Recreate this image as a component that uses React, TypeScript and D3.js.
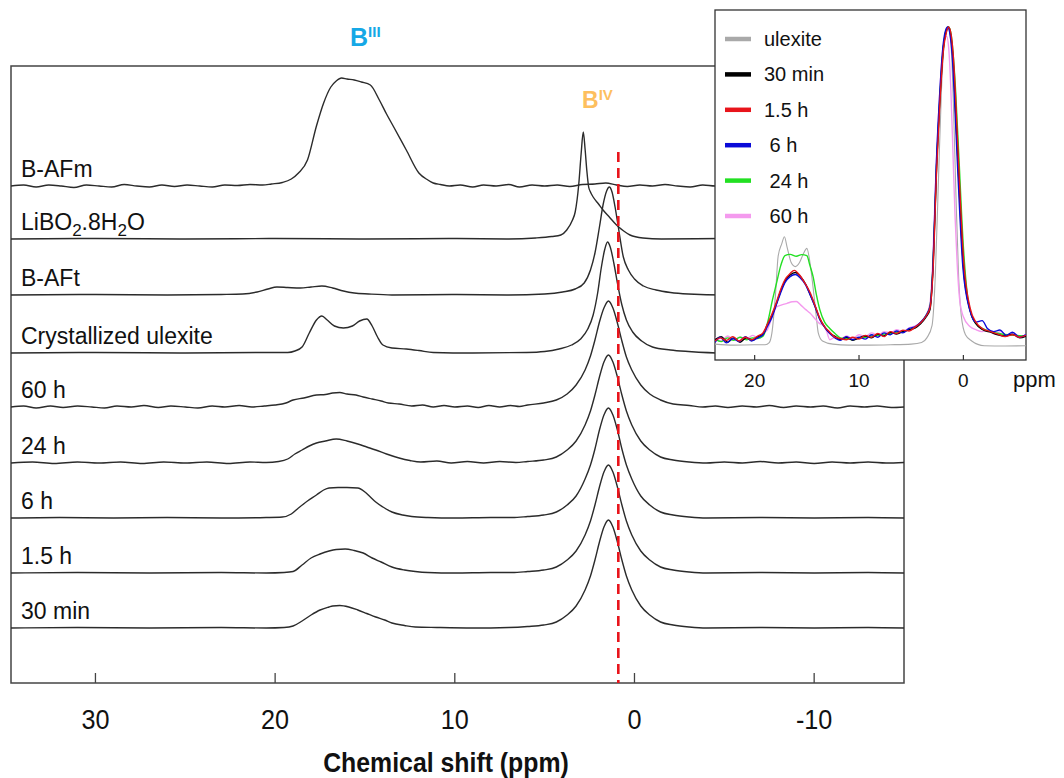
import React from "react";
import * as d3 from "d3";

type Pt = [number, number];

// ---------- main stacked spectra (ppm, intensity a.u.) ----------
const TRACE_LABELS = ["B-AFm", "LiBO_2.8H_2O", "B-AFt", "Crystallized ulexite", "60 h", "24 h", "6 h", "1.5 h", "30 min"];
const TRACE_OFFSETS = [497, 444, 388, 330, 276, 220, 165, 110, 55];
const MAIN_TICKS = [30, 20, 10, 0, -10];
const REF_LINE_PPM = 0.9;

const bAFm: Pt[] = [[34.7,0],[34,1],[33.3,-1],[32.6,1],[31.9,0],[31.2,-1.5],[30.5,1],[29.8,0],[29.1,-1],[28.4,1.5],[27.7,0],[27,-1],[26.3,1],[25.6,-0.5],[24.9,1],[24.2,0],[23.5,-1],[22.8,1],[22.1,0.5],[21.4,1.5],[20.7,1],[20.2,2],[19.6,3.5],[19.1,7],[18.7,13],[18.2,26],[17.7,60],[17.3,83],[16.9,99],[16.6,105],[16.3,108],[16.0,107],[15.6,106],[15.2,104],[14.7,101],[14.2,86],[13.8,72],[13.4,59],[12.7,36],[12.0,13],[11.5,6],[11.2,3],[10.8,1.5],[10.3,0],[9.7,1],[9,-1],[8.4,1],[7.7,0],[7,1.5],[6.4,-1],[5.7,1],[5,0],[4.3,1],[3.6,-0.5],[2.9,1.5],[2.2,2],[1.6,3],[1.0,1],[0.4,-0.5],[-0.3,1],[-1,0],[-1.7,1.5],[-2.4,0],[-3.1,-1],[-3.8,1],[-4.5,0],[-5.5,1],[-7,0],[-9,1],[-11,0],[-13,1],[-15,0]];

const liBO2: Pt[] = [[34.7,0],[30,0.5],[25,0],[20,0.5],[15,0],[10,0.5],[7,0],[5.5,1],[4.6,2.5],[4.1,4],[3.77,9],[3.45,19],[3.3,27],[3.1,55],[2.97,85],[2.85,107],[2.75,90],[2.65,68],[2.55,52],[2.45,47],[2.3,42],[2.0,35],[1.75,29],[1.4,22],[1.0,14],[0.6,8],[0.25,4],[-0.47,1],[-1.5,0],[-5,0.5],[-15,0]];

const bAFt: Pt[] = [[34.7,0],[30,0.5],[26,0],[23,0.5],[21.8,1],[21,3],[20.4,6],[19.9,8],[19.3,7.5],[18.6,7],[18,8],[17.4,9],[16.8,7],[16.2,4],[15.6,2],[14.8,1],[13.5,0],[10,0.5],[7,0],[5,1],[4,3],[3.3,6],[2.8,12],[2.45,25],[2.2,42],[1.95,68],[1.75,90],[1.55,104],[1.4,108],[1.25,103],[1.08,88],[0.9,68],[0.62,38],[0.34,25],[0,16],[-0.5,9],[-1.2,5],[-2,2.5],[-3,1],[-5,0],[-15,0]];

const crystUlexite: Pt[] = [[34.7,0],[30,0.5],[25,0],[21,0.5],[19.3,0.5],[18.9,2],[18.5,6],[18.1,20],[17.7,33],[17.4,37],[17.1,33],[16.7,27],[16.2,25],[15.7,27],[15.3,32],[14.9,34],[14.6,27],[14.3,16],[14.0,8],[13.5,5],[12.7,4],[12,2.5],[11.2,0.5],[9,0],[6,0.5],[5,1.5],[4.2,4],[3.5,8],[3.0,14],[2.6,24],[2.3,38],[2.05,60],[1.85,85],[1.65,104],[1.5,111],[1.35,106],[1.15,90],[0.95,70],[0.7,48],[0.45,33],[0.1,21],[-0.4,12],[-1,6],[-2,3],[-3,1.5],[-5,0],[-15,0]];

const h60: Pt[] = [[34.7,0],[34,1],[33.3,-1],[32.5,1],[31.8,-0.5],[31,1],[30.2,0],[29.5,-1],[28.8,1],[28,0],[27.3,1.5],[26.5,-0.5],[25.8,1],[25,0],[24.3,-1],[23.5,1],[22.8,0],[22,1.5],[21.3,0],[20.6,1],[20,2],[19.4,4],[19,7],[18.4,9],[17.7,12],[17.2,12.5],[16.8,14],[16.4,14.5],[16,13],[15.5,12],[15.1,10],[14.6,8],[14.1,6],[13.7,4],[13.1,3],[12.4,1],[11.8,2],[11.2,0],[10.6,1.5],[10,0],[9.3,1],[8.7,-0.5],[8.1,1.5],[7.5,0],[6.9,1.5],[6.4,0.5],[5.95,2],[5.05,4],[4.35,7],[3.75,13],[3.25,22],[2.75,37],[2.45,51],[2.2,67],[1.95,85],[1.7,99],[1.45,106],[1.2,99],[0.95,84],[0.7,66],[0.45,50],[0.15,37],[-0.35,22],[-0.85,13],[-1.45,7],[-2.15,3],[-3.05,1.5],[-3.8,0],[-4.5,1],[-5.2,-0.5],[-6,1],[-6.8,0],[-7.5,1.5],[-8.3,-0.5],[-9,1],[-9.8,0],[-10.5,1],[-11.3,-1],[-12,1],[-12.8,0],[-13.5,1],[-14.3,-0.5],[-15,0]];

const h24: Pt[] = [[34.7,0],[33.5,1],[32.3,-0.5],[31,1],[29.8,0],[28.6,1],[27.4,-0.5],[26.2,1],[25,0],[23.8,1],[22.6,-0.5],[21.4,1],[20.5,0.5],[19.8,1.5],[19.3,4],[18.9,9],[18.5,13],[18.1,17],[17.7,20],[17.2,22],[16.6,24],[16,22],[15.4,19],[14.9,16],[14.4,13],[13.8,9],[13.1,5],[12.5,2.5],[11.9,1],[11,2],[10.2,0],[9.3,1.5],[8.4,0],[7.5,1.5],[6.6,0.5],[5.95,1.5],[5.05,3],[4.35,6],[3.75,13],[3.25,22],[2.75,38],[2.45,52],[2.2,68],[1.95,86],[1.7,101],[1.45,108],[1.2,101],[0.95,86],[0.7,68],[0.45,52],[0.15,38],[-0.35,22],[-0.85,13],[-1.45,6],[-2.15,3],[-3.05,1],[-4,0],[-5,1],[-6,0],[-7,1.5],[-8,0],[-9,1],[-10,-0.5],[-11,1],[-12,0],[-13,1],[-14,0],[-15,0.5]];

const h6: Pt[] = [[34.7,0],[32,0.5],[29,0],[26,0.5],[23,0],[20.5,0.5],[19.6,1],[19.1,4],[18.7,10],[18.2,17],[17.7,23],[17.3,28],[17.0,30],[16.5,30.5],[16,30.5],[15.4,30],[15,26],[14.7,21],[14.4,16],[14,11],[13.5,6],[12.9,3],[12.4,1.5],[11.5,0.5],[10,0],[8,0.5],[6.8,0.5],[5.95,1.5],[5.05,3],[4.35,6],[3.75,13],[3.25,22],[2.75,39],[2.45,53],[2.2,69],[1.95,88],[1.7,103],[1.45,110],[1.2,103],[0.95,88],[0.7,69],[0.45,53],[0.15,39],[-0.35,22],[-0.85,13],[-1.45,6],[-2.15,3],[-3.05,1],[-4,0],[-7,0.5],[-10,0],[-13,0.5],[-15,0]];

const h1_5: Pt[] = [[34.7,0],[31,0.5],[27,0],[23,0.5],[20.5,0],[19.5,0.5],[19,1.5],[18.5,8],[18,15],[17.5,19],[17,22],[16.6,23.5],[16.1,24],[15.6,22.5],[15.1,20],[14.6,15],[14.1,11],[13.5,6],[12.8,3],[12.2,1.5],[11.5,0.5],[10,0],[8,0.5],[6.8,0.5],[5.95,1.5],[5.05,3],[4.35,6],[3.75,13],[3.25,22],[2.75,38],[2.45,52],[2.2,68],[1.95,86],[1.7,101],[1.45,108],[1.2,101],[0.95,86],[0.7,68],[0.45,52],[0.15,38],[-0.35,22],[-0.85,13],[-1.45,6],[-2.15,3],[-3.05,1],[-4,0],[-7,0.5],[-10,0],[-13,0.5],[-15,0]];

const min30: Pt[] = [[34.7,0],[31,0.5],[27,0],[23,0.5],[20.5,0],[19.5,0.5],[19,2],[18.5,7],[18,13],[17.5,18],[17,21],[16.8,22],[16.4,22.5],[15.9,21],[15.4,18],[14.9,14.5],[14.4,11],[13.9,8],[13.5,5],[12.8,2.5],[12.2,1],[11,0.5],[9,0],[7,0.5],[5.95,1.5],[5.05,3],[4.35,6],[3.75,13],[3.25,22],[2.75,38],[2.45,52],[2.2,68],[1.95,86],[1.7,101],[1.45,108],[1.2,101],[0.95,86],[0.7,68],[0.45,52],[0.15,38],[-0.35,22],[-0.85,13],[-1.45,6],[-2.15,3],[-3.05,1],[-4,0],[-7,0.5],[-10,0],[-13,0.5],[-15,0]];

const TRACES: Pt[][] = [bAFm, liBO2, bAFt, crystUlexite, h60, h24, h6, h1_5, min30];

// ---------- inset (normalised intensity) ----------
const INSET_LABELS = ["ulexite", "30 min", "1.5 h", " 6 h", " 24 h", " 60 h"];
const INSET_COLORS = ["#a9a9a9", "#000000", "#e8141b", "#0a0ad8", "#22e022", "#f49aee"];
const INSET_TICKS = [20, 10, 0];

const inUlexite: Pt[] = [[23.8,-0.01],[22,-0.013],[20,-0.012],[19,-0.012],[18.6,-0.005],[18.35,0.025],[18.0,0.15],[17.75,0.27],[17.4,0.31],[17.15,0.332],[16.9,0.3],[16.5,0.25],[16.1,0.237],[15.7,0.25],[15.3,0.28],[15.0,0.295],[14.7,0.25],[14.4,0.17],[14.1,0.08],[13.9,0.025],[13.5,0],[12.5,-0.01],[11,-0.013],[9,-0.013],[7,-0.012],[5,-0.01],[4,-0.005],[3.5,0.01],[3.0,0.05],[2.7,0.2],[2.4,0.5],[2.1,0.8],[1.8,0.96],[1.5,1.0],[1.2,0.95],[0.95,0.75],[0.7,0.45],[0.45,0.2],[0.2,0.08],[-0.2,0.02],[-0.8,0],[-2,-0.015],[-4,-0.016],[-6,-0.015]];

const in30min: Pt[] = [[23.8,0.004],[23.2,0.014],[22.6,-0.004],[22,0.01],[21.4,-0.004],[20.8,0.01],[20.2,0.002],[19.7,0.014],[19.2,0.022],[18.8,0.05],[18.35,0.08],[17.9,0.12],[17.55,0.155],[17.1,0.19],[16.6,0.21],[16.1,0.218],[15.6,0.205],[15.1,0.18],[14.7,0.15],[14.2,0.11],[13.75,0.07],[13.3,0.045],[12.8,0.025],[12.3,0.015],[11.8,0.004],[11.2,0.012],[10.6,0.002],[10,0.01],[9.4,0.016],[8.8,0.01],[8.2,0.022],[7.6,0.016],[7,0.028],[6.4,0.022],[5.8,0.03],[5.2,0.036],[4.6,0.042],[4.1,0.055],[3.6,0.075],[3.2,0.1],[2.9,0.24],[2.57,0.555],[2.25,0.77],[1.9,0.94],[1.65,0.985],[1.45,1.0],[1.2,0.97],[1.0,0.9],[0.8,0.77],[0.5,0.555],[0.0,0.237],[-0.62,0.1],[-1.2,0.055],[-1.9,0.035],[-2.6,0.028],[-3.3,0.02],[-4,0.016],[-4.7,0.022],[-5.4,0.01],[-6,0.015]];

const in1_5h: Pt[] = [[23.8,0.0],[23.3,0.01],[22.7,0.002],[22.1,0.014],[21.5,0],[20.9,0.012],[20.3,0.004],[19.7,0.016],[19.2,0.026],[18.8,0.052],[18.35,0.085],[17.9,0.125],[17.55,0.16],[17.1,0.195],[16.6,0.215],[16.2,0.225],[15.7,0.21],[15.2,0.185],[14.7,0.155],[14.2,0.112],[13.75,0.072],[13.3,0.046],[12.8,0.028],[12.3,0.012],[11.8,0.008],[11.2,0.004],[10.6,0.012],[10,0.006],[9.4,0.018],[8.8,0.012],[8.2,0.024],[7.6,0.014],[7,0.03],[6.4,0.024],[5.8,0.034],[5.2,0.032],[4.6,0.045],[4.1,0.058],[3.6,0.078],[3.2,0.105],[2.9,0.23],[2.57,0.54],[2.25,0.76],[1.9,0.93],[1.65,0.98],[1.4,1.0],[1.15,0.97],[0.95,0.9],[0.75,0.78],[0.45,0.56],[-0.05,0.245],[-0.65,0.105],[-1.2,0.06],[-1.9,0.038],[-2.6,0.03],[-3.3,0.022],[-4,0.014],[-4.7,0.02],[-5.4,0.012],[-6,0.018]];

const in6h: Pt[] = [[23.8,-0.004],[23.3,0.012],[22.7,-0.006],[22.1,0.008],[21.5,-0.002],[20.9,0.014],[20.3,0],[19.7,0.01],[19.2,0.02],[18.8,0.045],[18.35,0.075],[17.9,0.118],[17.55,0.15],[17.1,0.186],[16.6,0.205],[16.1,0.212],[15.6,0.2],[15.1,0.178],[14.7,0.148],[14.2,0.108],[13.75,0.068],[13.3,0.044],[12.8,0.024],[12.3,0.01],[11.8,0.002],[11.2,0.014],[10.6,0.004],[10,0.012],[9.4,0.006],[8.8,0.02],[8.2,0.012],[7.6,0.026],[7,0.02],[6.4,0.032],[5.8,0.026],[5.2,0.04],[4.6,0.046],[4.1,0.06],[3.6,0.08],[3.2,0.11],[2.9,0.25],[2.6,0.56],[2.28,0.78],[1.95,0.94],[1.7,0.99],[1.5,1.0],[1.25,0.97],[1.05,0.9],[0.85,0.77],[0.55,0.55],[0.05,0.235],[-0.6,0.1],[-1.2,0.06],[-1.8,0.065],[-2.3,0.04],[-2.9,0.03],[-3.5,0.035],[-4.1,0.018],[-4.7,0.028],[-5.4,0.012],[-6,0.02]];

const in24h: Pt[] = [[23.8,0.006],[23.2,-0.002],[22.6,0.01],[22,0.002],[21.4,0.012],[20.8,0.004],[20.2,0.01],[19.7,0.008],[19.2,0.015],[18.7,0.067],[18.3,0.13],[17.9,0.185],[17.5,0.24],[17.1,0.272],[16.6,0.276],[16.0,0.27],[15.5,0.275],[15.0,0.272],[14.7,0.24],[14.4,0.205],[14.1,0.15],[13.75,0.099],[13.3,0.06],[12.8,0.04],[12.3,0.024],[11.8,0.01],[11.2,0.008],[10.6,0.004],[10,0.01],[9.4,0.012],[8.8,0.016],[8.2,0.018],[7.6,0.022],[7,0.024],[6.4,0.028],[5.8,0.03],[5.2,0.036],[4.6,0.044],[4.1,0.058],[3.6,0.08],[3.2,0.11],[2.9,0.25],[2.57,0.56],[2.25,0.78],[1.9,0.94],[1.65,0.99],[1.4,1.0],[1.15,0.97],[0.95,0.9],[0.75,0.8],[0.45,0.6],[0.0,0.3],[-0.5,0.12],[-1.1,0.06],[-1.8,0.04],[-2.6,0.03],[-3.4,0.024],[-4.2,0.02],[-5,0.018],[-6,0.016]];

const in60h: Pt[] = [[23.8,0.01],[23.2,0.0],[22.6,0.016],[22,0.004],[21.4,0.012],[20.8,0.006],[20.2,0.018],[19.7,0.01],[19.2,0.025],[18.8,0.035],[18.4,0.07],[17.9,0.108],[17.4,0.115],[16.9,0.12],[16.4,0.125],[16.0,0.126],[15.6,0.115],[15.1,0.1],[14.7,0.089],[14.2,0.07],[13.8,0.056],[13.4,0.05],[13.1,0.03],[12.8,0.004],[12.3,0.012],[11.8,0.006],[11.2,0.016],[10.6,0.008],[10,0.02],[9.4,0.014],[8.8,0.026],[8.2,0.018],[7.6,0.03],[7,0.026],[6.4,0.036],[5.8,0.03],[5.2,0.042],[4.6,0.048],[4.1,0.06],[3.6,0.08],[3.2,0.12],[2.95,0.24],[2.65,0.52],[2.35,0.74],[2.05,0.9],[1.8,0.96],[1.6,0.97],[1.4,0.93],[1.2,0.8],[1.0,0.6],[0.8,0.4],[0.6,0.25],[0.35,0.13],[0.0,0.077],[-0.62,0.046],[-1.2,0.036],[-1.8,0.03],[-2.4,0.036],[-3,0.022],[-3.6,0.03],[-4.2,0.016],[-4.8,0.026],[-5.4,0.012],[-6,0.02]];

const INSET_SERIES: Pt[][] = [inUlexite, in30min, in1_5h, in6h, in24h, in60h];
const INSET_DRAW_ORDER = [0, 5, 4, 1, 3, 2];

const FONT = "'Liberation Sans', Arial, Helvetica, sans-serif";

function Label({ text, x, y }: { text: string; x: number; y: number }) {
  const parts = text.split(/_(\d)/);
  return (
    <text x={x} y={y} fontSize={23} fontFamily={FONT} fill="#111">
      {parts.map((p, i) =>
        i % 2 === 1 ? (
          <tspan key={i} fontSize={17} dy={6}>{p}</tspan>
        ) : (
          <tspan key={i} dy={i === 0 ? 0 : -6}>{p}</tspan>
        )
      )}
    </text>
  );
}

export default function App() {
  const W = 1064, H = 778;
  const left = 11, right = 904, top = 66, bottom = 683;

  const x = d3.scaleLinear().domain([34.7, -15]).range([left, right]);
  const y = d3.scaleLinear().domain([0, 617]).range([bottom, top]);

  const mkLine = (off: number) =>
    d3.line<Pt>().x(d => x(d[0])).y(d => y(d[1] + off)).curve(d3.curveMonotoneX);

  // inset
  const iL = 715, iR = 1026, iT = 10, iB = 360;
  const ix = d3.scaleLinear().domain([23.8, -6]).range([iL, iR]);
  const iy = d3.scaleLinear().domain([0, 1]).range([341, 27]);
  const iLine = d3.line<Pt>().x(d => ix(d[0])).y(d => iy(d[1])).curve(d3.curveMonotoneX);

  return (
    <svg width={W} height={H} viewBox={`0 0 ${W} ${H}`}
      style={{ position: "absolute", left: 0, top: 0, background: "#fff" }}>
      <defs>
        <clipPath id="mainClip"><rect x={left} y={top} width={right - left} height={bottom - top} /></clipPath>
        <clipPath id="insetClip"><rect x={iL} y={iT} width={iR - iL} height={iB - iT} /></clipPath>
      </defs>
      <rect x={0} y={0} width={W} height={H} fill="#fff" />

      {/* main frame */}
      <rect x={left} y={top} width={right - left} height={bottom - top} fill="none" stroke="#444" strokeWidth={1.5} />

      {/* ticks */}
      {MAIN_TICKS.map(t => (
        <g key={t}>
          <line x1={x(t)} x2={x(t)} y1={bottom} y2={bottom - 10} stroke="#444" strokeWidth={1.3} />
          <text x={x(t)} y={729} fontSize={28} fontFamily={FONT} textAnchor="middle" fill="#111"
            transform={`translate(${x(t)},0) scale(0.9,1) translate(${-x(t)},0)`}>{t}</text>
        </g>
      ))}
      <text x={446} y={772} fontSize={27} fontWeight="bold" fontFamily={FONT} textAnchor="middle" fill="#111"
        transform={`translate(446,0) scale(0.92,1) translate(-446,0)`}>Chemical shift (ppm)</text>

      {/* spectra */}
      <g clipPath="url(#mainClip)">
        {TRACES.map((tr, i) => (
          <path key={i} d={mkLine(TRACE_OFFSETS[i])(tr) || ""} fill="none" stroke="#2b2b2b" strokeWidth={1.4} />
        ))}
      </g>

      {/* labels */}
      {TRACE_LABELS.map((lab, i) => (
        <Label key={i} text={lab} x={21} y={y(TRACE_OFFSETS[i]) - 9} />
      ))}

      {/* reference line */}
      <line x1={x(REF_LINE_PPM)} x2={x(REF_LINE_PPM)} y1={152} y2={bottom} stroke="#e8141b"
        strokeWidth={2.6} strokeDasharray="10,6" />

      {/* B labels */}
      <text x={350} y={46} fontFamily={FONT} fontWeight="bold" fill="#16a8e6">
        <tspan fontSize={25}>B</tspan>
        <tspan fontSize={15} dy={-9}>III</tspan>
      </text>
      <text x={582} y={108} fontFamily={FONT} fontWeight="bold" fill="#fdbf5e">
        <tspan fontSize={23}>B</tspan>
        <tspan fontSize={15} dy={-8}>IV</tspan>
      </text>

      {/* inset */}
      <rect x={iL} y={iT} width={iR - iL} height={iB - iT} fill="#fff" stroke="#333" strokeWidth={1.3} />
      <g clipPath="url(#insetClip)">
        {INSET_DRAW_ORDER.map(k => (
          <path key={k} d={iLine(INSET_SERIES[k]) || ""} fill="none" stroke={INSET_COLORS[k]}
            strokeWidth={k === 0 ? 1.1 : 1.4} />
        ))}
      </g>
      {INSET_TICKS.map(t => (
        <g key={t}>
          <line x1={ix(t)} x2={ix(t)} y1={iB} y2={iB - 5} stroke="#333" strokeWidth={1.2} />
          <text x={ix(t)} y={387} fontSize={19} fontFamily={FONT} textAnchor="middle" fill="#111">{t}</text>
        </g>
      ))}
      <text x={1013} y={387} fontSize={22} fontFamily={FONT} fill="#111">ppm</text>

      {/* legend */}
      {INSET_LABELS.map((lab, i) => {
        const ry = 39 + i * 35.4;
        return (
          <g key={i}>
            <line x1={725} x2={751} y1={ry} y2={ry} stroke={INSET_COLORS[i]} strokeWidth={4.5} />
            <text x={764} y={ry + 7} fontSize={20} fontFamily={FONT} fill="#111" style={{ whiteSpace: "pre" }}>{lab}</text>
          </g>
        );
      })}
    </svg>
  );
}
